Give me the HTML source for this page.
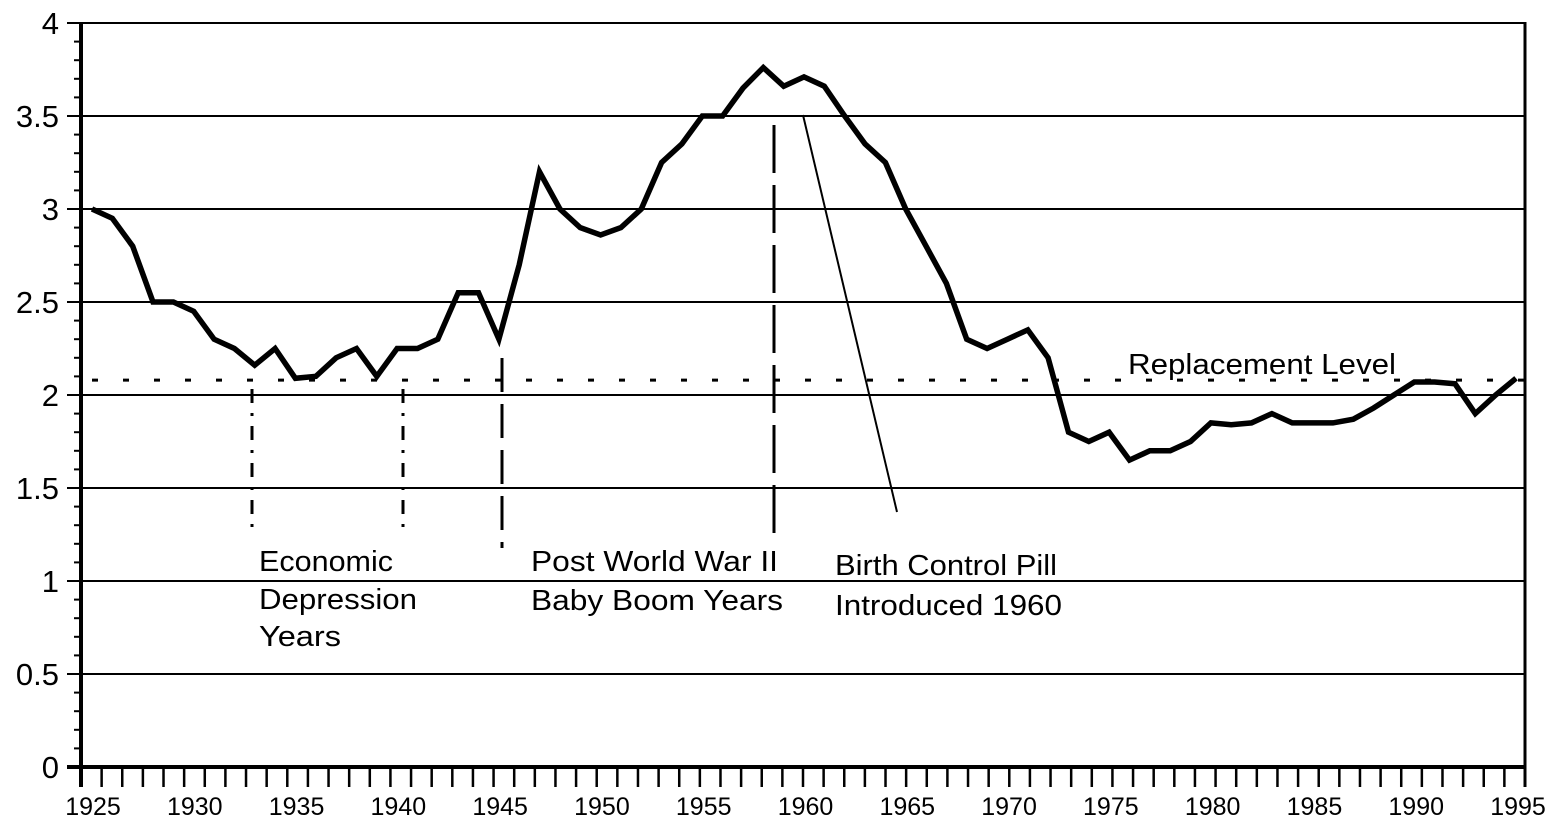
<!DOCTYPE html>
<html><head><meta charset="utf-8"><style>
body{margin:0;background:#fff;}
svg{display:block;font-family:"Liberation Sans",sans-serif;}
</style></head><body>
<svg id="chart" width="1554" height="834" viewBox="0 0 1554 834">
<g id="grid"></g>
<g id="axes"></g>
<g id="annot">
<text x="1128" y="374" font-size="29" textLength="268" lengthAdjust="spacingAndGlyphs">Replacement Level</text>
<text x="259" y="571" font-size="29"><tspan x="259" textLength="134" lengthAdjust="spacingAndGlyphs">Economic</tspan><tspan x="259" dy="38" textLength="158" lengthAdjust="spacingAndGlyphs">Depression</tspan><tspan x="259" dy="37" textLength="82" lengthAdjust="spacingAndGlyphs">Years</tspan></text>
<text x="531" y="571" font-size="29"><tspan x="531" textLength="247" lengthAdjust="spacingAndGlyphs">Post World War II</tspan><tspan x="531" dy="39" textLength="252" lengthAdjust="spacingAndGlyphs">Baby Boom Years</tspan></text>
<text x="835" y="575" font-size="29"><tspan x="835" textLength="222" lengthAdjust="spacingAndGlyphs">Birth Control Pill</tspan><tspan x="835" dy="40" textLength="227" lengthAdjust="spacingAndGlyphs">Introduced 1960</tspan></text>
<line x1="252" y1="389" x2="252" y2="535" stroke="#000" stroke-width="3" stroke-dasharray="14 10 3 10"/>
<line x1="403" y1="389" x2="403" y2="537" stroke="#000" stroke-width="3" stroke-dasharray="14 10 3 10"/>
<line x1="502" y1="358" x2="502" y2="548" stroke="#000" stroke-width="3" stroke-dasharray="34 12"/>
<line x1="774" y1="125" x2="774" y2="535" stroke="#000" stroke-width="3" stroke-dasharray="48 12"/>
<line x1="803" y1="115" x2="897" y2="512" stroke="#000" stroke-width="2"/>
</g>
<g id="series"></g>
</svg>
<script>
const years=[1925,1926,1927,1928,1929,1930,1931,1932,1933,1934,1935,1936,1937,1938,1939,1940,1941,1942,1943,1944,1945,1946,1947,1948,1949,1950,1951,1952,1953,1954,1955,1956,1957,1958,1959,1960,1961,1962,1963,1964,1965,1966,1967,1968,1969,1970,1971,1972,1973,1974,1975,1976,1977,1978,1979,1980,1981,1982,1983,1984,1985,1986,1987,1988,1989,1990,1991,1992,1993,1994,1995];
const rates=[3.0,2.95,2.8,2.5,2.5,2.45,2.3,2.25,2.16,2.25,2.09,2.1,2.2,2.25,2.1,2.25,2.25,2.3,2.55,2.55,2.3,2.7,3.2,3.0,2.9,2.86,2.9,3.0,3.25,3.35,3.5,3.5,3.65,3.76,3.66,3.71,3.66,3.5,3.35,3.25,3.0,2.8,2.6,2.3,2.25,2.3,2.35,2.2,1.8,1.75,1.8,1.65,1.7,1.7,1.75,1.85,1.84,1.85,1.9,1.85,1.85,1.85,1.87,1.93,2.0,2.07,2.07,2.06,1.9,2.0,2.09];
const yTicks=[0,0.5,1,1.5,2,2.5,3,3.5,4];
const yTickLabels=["0","0.5","1","1.5","2","2.5","3","3.5","4"];
const xLabelYears=[1925,1930,1935,1940,1945,1950,1955,1960,1965,1970,1975,1980,1985,1990,1995];
const replacementLevel=2.08;
const NS="http://www.w3.org/2000/svg";
const X0=81,X1=1525,Y0=767,Y1=23;
function xAxis(yr){return X0+(yr-1925)*(X1-X0)/70;}
function xLabel(yr){return 93+(yr-1925)*(1518-93)/70;}
function xData(yr){return 92+(yr-1925)*(1516-92)/70;}
function yAxis(v){return Y0-(v/4)*(Y0-Y1);}
function mk(tag,attrs,parent){const e=document.createElementNS(NS,tag);for(const k in attrs)e.setAttribute(k,attrs[k]);parent.appendChild(e);return e;}
const grid=document.getElementById('grid'),axes=document.getElementById('axes'),series=document.getElementById('series'),annot=document.getElementById('annot');
yTicks.forEach((t,i)=>{
  const y=yAxis(t);
  const l=mk('line',{x1:X0-14,x2:X1,y1:y,y2:y,stroke:'#000','stroke-width':t===0?4:2},grid);
  
  
  const tx=mk('text',{x:59,y:y+11,'font-size':31,'text-anchor':'end'},axes);
  tx.textContent=yTickLabels[i];
  
  
});
for(let v=0.1;v<4;v+=0.1){
  const y=yAxis(v);
  const m=mk('line',{x1:X0-7,x2:X0,y1:y,y2:y,stroke:'#000','stroke-width':2},axes);
  
  
}
const la=mk('line',{x1:X0,x2:X0,y1:Y1-1,y2:Y0+20,stroke:'#000','stroke-width':4},axes);


const ra=mk('line',{x1:X1,x2:X1,y1:Y1-1,y2:Y0+20,stroke:'#000','stroke-width':3},axes);


for(let yr=1925;yr<=1995;yr++){
  const x=xAxis(yr);
  const t=mk('line',{x1:x,x2:x,y1:Y0,y2:Y0+20,stroke:'#000','stroke-width':2.5},axes);
  
  
}
xLabelYears.forEach(yr=>{
  const t=mk('text',{x:xLabel(yr),y:815,'font-size':25,'text-anchor':'middle'},axes);
  t.textContent=yr;
  
  
});
const ry=yAxis(replacementLevel);
const rl=mk('line',{x1:92,x2:X1,y1:ry,y2:ry,stroke:'#000','stroke-width':3,'stroke-dasharray':'6 25'},annot);


const pts=years.map((yr,i)=>xData(yr).toFixed(1)+','+yAxis(rates[i]).toFixed(1)).join(' ');
const pl=mk('polyline',{points:pts,fill:'none',stroke:'#000','stroke-width':5.5,'stroke-linejoin':'miter'},series);


</script>
</body></html>
